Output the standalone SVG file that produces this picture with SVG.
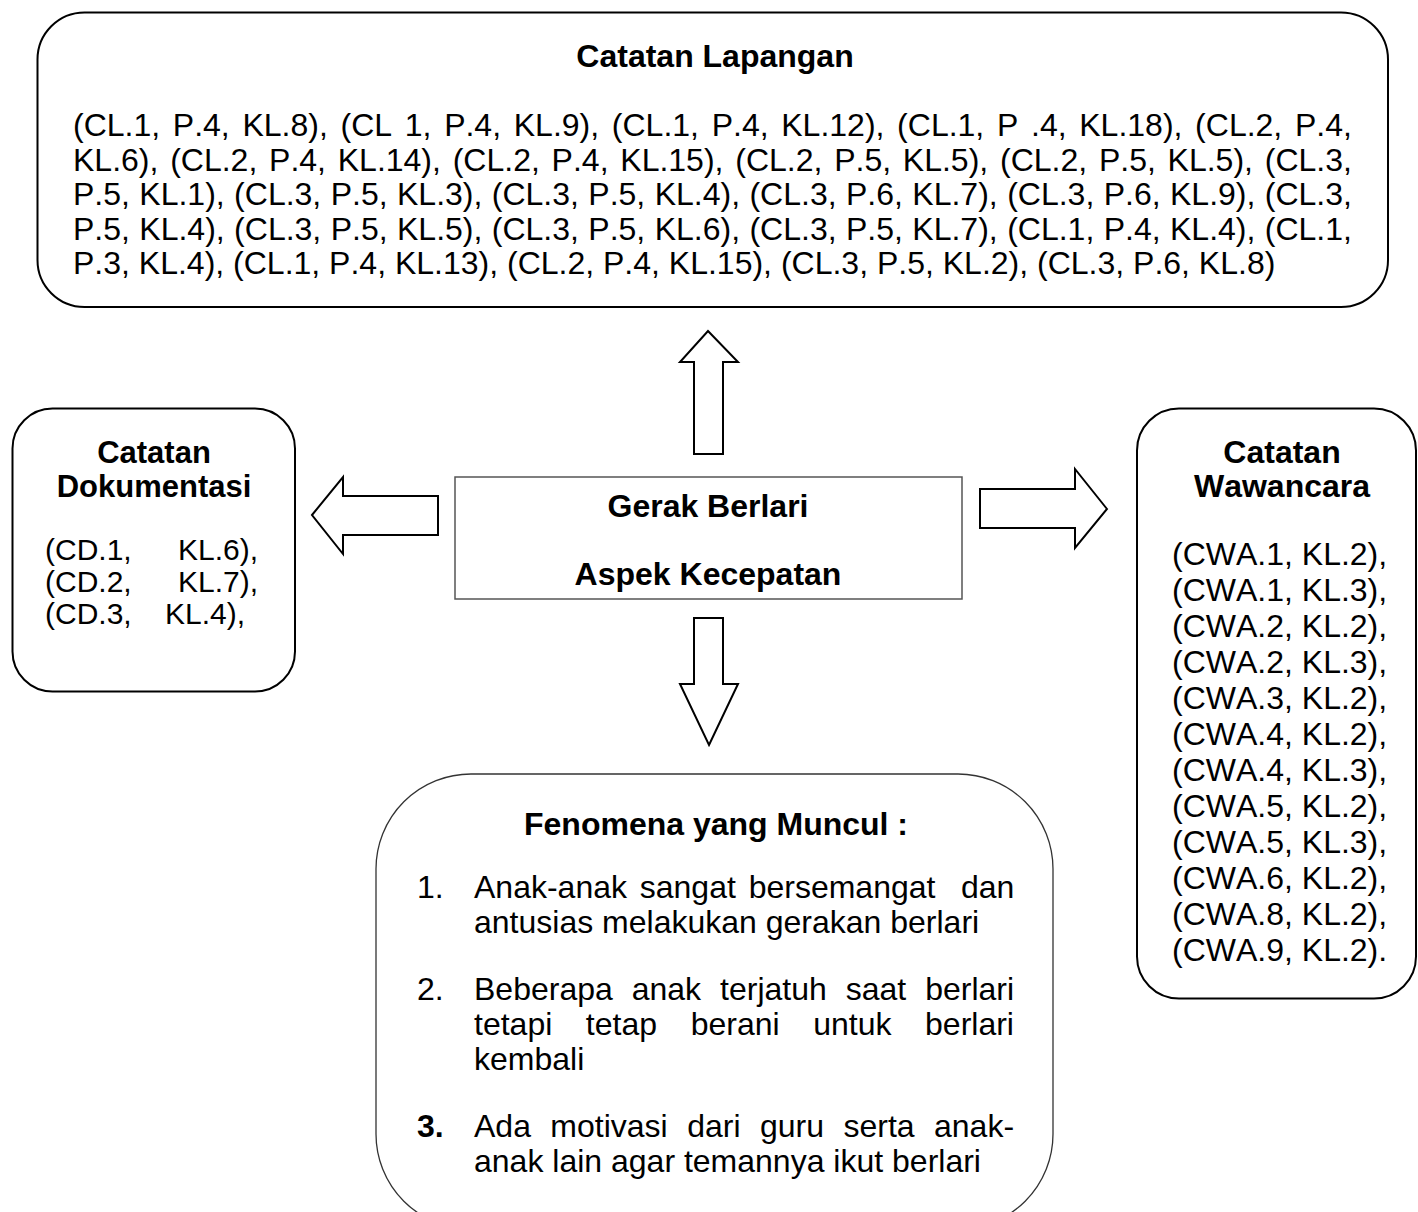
<svg xmlns="http://www.w3.org/2000/svg" width="1418" height="1212" viewBox="0 0 1418 1212">
<style>
.box{fill:#fff;stroke:#000;stroke-width:2}
.cbox{fill:#fff;stroke:#555;stroke-width:1.5}
.arr{fill:#fff;stroke:#000;stroke-width:2;stroke-linejoin:miter}
text{font-family:"Liberation Sans",Arial,sans-serif;font-size:32px;fill:#000;font-kerning:none}
.b{font-weight:bold}
.c{text-anchor:middle}
.s{font-size:30px}
.t{font-size:31px}
</style>
<rect width="1418" height="1212" fill="#fff"/>
<g id="connectors">
<polygon class="arr" points="708,331 738,362 723,362 723,454 694,454 694,362 680,362"/>
<polygon class="arr" points="312,515 343,477 343,496 438,496 438,535 343,535 343,554"/>
<polygon class="arr" points="1107,509 1075,469 1075,489 980,489 980,528 1075,528 1075,548"/>
<polygon class="arr" points="709,745 738,684 723,684 723,618 694,618 694,684 680,684"/>
</g>
<g id="catatan-lapangan">
<rect class="box" x="37.5" y="12.5" width="1350.5" height="294.5" rx="47"/>
<text class="b c" x="715" y="67">Catatan Lapangan</text>
<text x="73" y="136" word-spacing="3.8">(CL.1, P.4, KL.8), (CL 1, P.4, KL.9), (CL.1, P.4, KL.12), (CL.1, P .4, KL.18), (CL.2, P.4,</text>
<text x="73" y="170.5" word-spacing="2.88">KL.6), (CL.2, P.4, KL.14), (CL.2, P.4, KL.15), (CL.2, P.5, KL.5), (CL.2, P.5, KL.5), (CL.3,</text>
<text x="73" y="205" word-spacing="0.52">P.5, KL.1), (CL.3, P.5, KL.3), (CL.3, P.5, KL.4), (CL.3, P.6, KL.7), (CL.3, P.6, KL.9), (CL.3,</text>
<text x="73" y="239.5" word-spacing="0.52">P.5, KL.4), (CL.3, P.5, KL.5), (CL.3, P.5, KL.6), (CL.3, P.5, KL.7), (CL.1, P.4, KL.4), (CL.1,</text>
<text x="73" y="274">P.3, KL.4), (CL.1, P.4, KL.13), (CL.2, P.4, KL.15), (CL.3, P.5, KL.2), (CL.3, P.6, KL.8)</text>
</g>
<g id="catatan-dokumentasi">
<rect class="box" x="12.5" y="408.5" width="282.5" height="283" rx="40"/>
<text class="b c t" x="154" y="463">Catatan</text>
<text class="b c t" x="154" y="497">Dokumentasi</text>
<text class="s" x="45" y="560">(CD.1,</text><text class="s" x="178" y="560">KL.6),</text>
<text class="s" x="45" y="592">(CD.2,</text><text class="s" x="178" y="592">KL.7),</text>
<text class="s" x="45" y="624">(CD.3,</text><text class="s" x="165" y="624">KL.4),</text>
</g>
<g id="gerak-berlari">
<rect class="cbox" x="455" y="477" width="507" height="122"/>
<text class="b c" x="708" y="517">Gerak Berlari</text>
<text class="b c" x="708" y="585">Aspek Kecepatan</text>
</g>
<g id="catatan-wawancara">
<rect class="box" x="1137" y="408.5" width="279" height="590" rx="42"/>
<text class="b c" x="1282" y="463">Catatan</text>
<text class="b c" x="1282" y="497">Wawancara</text>
<text x="1172" y="565">(CWA.1, KL.2),</text>
<text x="1172" y="601">(CWA.1, KL.3),</text>
<text x="1172" y="637">(CWA.2, KL.2),</text>
<text x="1172" y="673">(CWA.2, KL.3),</text>
<text x="1172" y="709">(CWA.3, KL.2),</text>
<text x="1172" y="745">(CWA.4, KL.2),</text>
<text x="1172" y="781">(CWA.4, KL.3),</text>
<text x="1172" y="817">(CWA.5, KL.2),</text>
<text x="1172" y="853">(CWA.5, KL.3),</text>
<text x="1172" y="889">(CWA.6, KL.2),</text>
<text x="1172" y="925">(CWA.8, KL.2),</text>
<text x="1172" y="961">(CWA.9, KL.2).</text>
</g>
<g id="fenomena">
<rect x="376" y="774" width="677" height="455" rx="95" fill="#fff" stroke="#333" stroke-width="1.3"/>
<text class="b c" x="716" y="835">Fenomena yang Muncul :</text>
<text x="417" y="898">1.</text>
<text x="474" y="898" word-spacing="3.9" xml:space="preserve">Anak-anak sangat bersemangat  dan</text>
<text x="474" y="933">antusias melakukan gerakan berlari</text>
<text x="417" y="1000">2.</text>
<text x="474" y="1000" word-spacing="10.05">Beberapa anak terjatuh saat berlari</text>
<text x="474" y="1035" word-spacing="24.7">tetapi tetap berani untuk berlari</text>
<text x="474" y="1070">kembali</text>
<text class="b" x="417" y="1137">3.</text>
<text x="474" y="1137" word-spacing="10.54">Ada motivasi dari guru serta anak-</text>
<text x="474" y="1172">anak lain agar temannya ikut berlari</text>
</g>
</svg>
